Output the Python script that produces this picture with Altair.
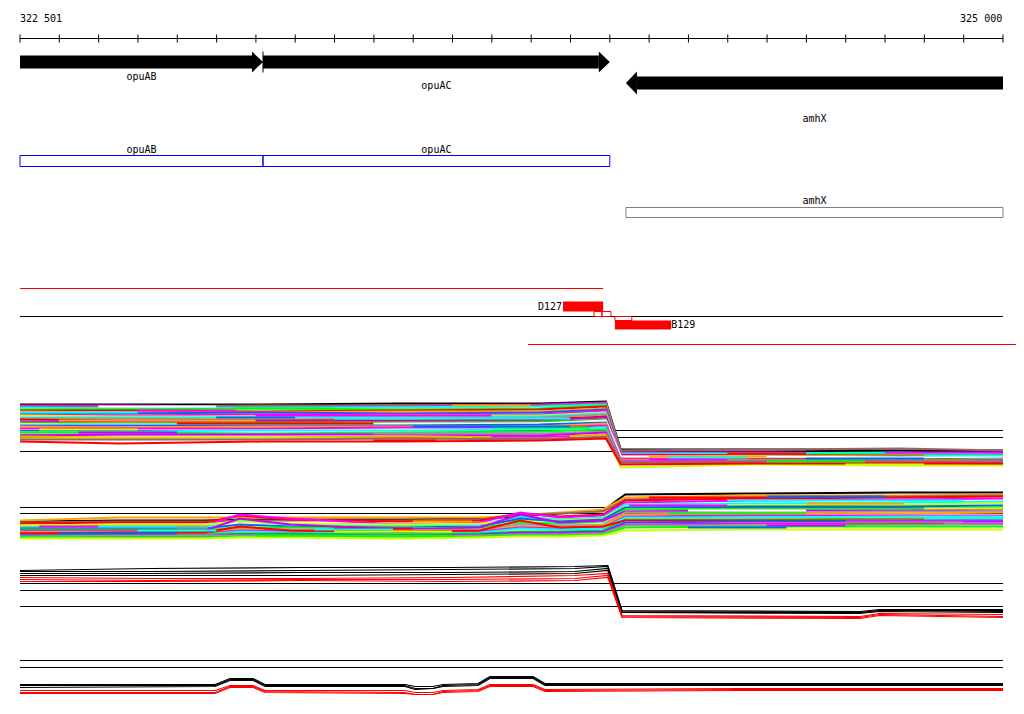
import altair as alt
import pandas as pd

# ---------------- data ----------------
X_START, X_END = 322501, 325001
TICKS = list(range(322501, 325002, 100))
END_LABELS = ["322 501", "325 000"]

GENE_NAMES = ["opuAB", "opuAC", "amhX"]
GENE_START = [322501, 323119, 324042]
GENE_END = [323119, 324001, 325001]
GENE_STRAND = ["+", "+", "-"]
GENE_ROW = [61.5, 61.5, 82.5]
GENE_LABEL_Y = [76, 85, 118]
BOX_ROW = [160.5, 160.5, 212]
BOX_LABEL_Y = [149, 149, 200]
BOX_COLOR = ["#0000ff", "#0000ff", "#808080"]

# tiling tracks: x positions (bp) and signal levels per series
T1_X = [322501, 322755, 323119, 323467, 323823, 323991, 324029, 324358, 324739, 325001]
T1_SERIES = [
    ("#000000", [404, 404, 404, 403, 403, 401, 449, 449, 450, 450]),
    ("#ff00ff", [405, 405, 406, 405, 404, 402, 452, 452, 453, 453]),
    ("#996666", [406, 406, 405, 405, 405, 403, 450, 449, 448, 450]),
    ("#00ffff", [407, 408, 407, 407, 406, 404, 453, 453, 452, 454]),
    ("#00ff00", [409, 409, 408, 409, 408, 405, 455, 454, 454, 455]),
    ("#ff0000", [410, 410, 411, 410, 409, 406, 454, 455, 455, 455]),
    ("#ffa500", [411, 412, 412, 411, 411, 408, 456, 456, 455, 456]),
    ("#0066ff", [413, 413, 412, 413, 412, 409, 457, 457, 456, 457]),
    ("#ff00ff", [414, 415, 414, 414, 414, 410, 455, 456, 457, 457]),
    ("#ccff00", [415, 416, 416, 415, 415, 412, 458, 458, 457, 459]),
    ("#00ffff", [417, 417, 417, 416, 416, 413, 456, 457, 458, 458]),
    ("#999999", [418, 418, 419, 418, 417, 414, 457, 456, 457, 458]),
    ("#ff0000", [419, 420, 420, 420, 419, 416, 459, 459, 458, 460]),
    ("#cc00ff", [421, 421, 421, 421, 420, 417, 458, 459, 459, 460]),
    ("#33cc00", [422, 423, 422, 422, 421, 419, 460, 460, 459, 460]),
    ("#ffffff", [424, 424, 424, 423, 423, 420, 456, 456, 457, 456]),
    ("#0066ff", [425, 425, 425, 425, 424, 422, 461, 461, 460, 461]),
    ("#ffa500", [426, 427, 426, 426, 426, 423, 459, 460, 460, 461]),
    ("#ff00ff", [428, 428, 428, 427, 427, 425, 460, 461, 461, 461]),
    ("#00ffff", [431, 431, 430, 430, 429, 427, 462, 461, 462, 462]),
    ("#00ff00", [432, 432, 433, 432, 431, 429, 463, 462, 462, 463]),
    ("#999999", [434, 434, 434, 433, 433, 431, 461, 461, 462, 462]),
    ("#cc00ff", [435, 434, 434, 434, 435, 432, 462, 462, 462, 463]),
    ("#ffa500", [436, 437, 437, 436, 437, 434, 463, 463, 463, 463]),
    ("#ccff00", [438, 438, 438, 438, 438, 436, 467, 464, 465, 465]),
    ("#996666", [439, 439, 439, 438, 439, 436, 462, 461, 461, 462]),
    ("#ff0000", [441, 443, 441, 441, 440, 438, 464, 463, 463, 463]),
]
# short coloured runs laid over track 1: (colour, start, end, level)
T1_RUNS = [
    ("#ffffff", 322700, 323000, 406), ("#ff00ff", 323100, 323700, 415), ("#00ffff", 323300, 323900, 418),
    ("#ffa500", 322600, 323100, 420), ("#00ff00", 323700, 323950, 427), ("#ff0000", 322900, 323400, 423),
    ("#0066ff", 323500, 323900, 426), ("#ccff00", 322550, 322800, 429), ("#cc00ff", 322650, 322900, 432),
    ("#999999", 323400, 323800, 433), ("#ff00ff", 323700, 323900, 436), ("#996666", 323650, 323850, 438),
    ("#ff0000", 323400, 323560, 440), ("#00ffff", 322501, 322800, 412), ("#ff00ff", 322800, 323050, 410),
    ("#00ff00", 323050, 323300, 408), ("#ffa500", 323600, 323800, 405), ("#0066ff", 323000, 323200, 417),
    ("#996666", 324300, 324500, 449), ("#ff00ff", 324700, 325001, 452), ("#00ffff", 324800, 325001, 455),
    ("#ff0000", 324300, 324500, 453), ("#ffa500", 324100, 324400, 456), ("#0066ff", 324500, 324800, 458),
    ("#ccff00", 324600, 324800, 464), ("#ff00ff", 324100, 324300, 459), ("#00ff00", 324400, 324650, 461),
    ("#00ffff", 324150, 324350, 457),
]
T1_REFS = [430, 437, 451]

T2_X = [322501, 322755, 322971, 323060, 323188, 323467, 323671, 323773, 323874, 323984,
        324040, 324358, 324739, 325001]
T2_SERIES = [
    ("#000000", [521, 520, 520, 519, 519, 519, 518, 516, 513, 510, 494, 493, 492, 492]),
    ("#ffa500", [520, 517, 517, 517, 517, 517, 517, 515, 512, 509, 497, 495, 495, 494]),
    ("#996666", [522, 521, 521, 520, 520, 520, 519, 514, 513, 511, 499, 497, 496, 495]),
    ("#ff0000", [523, 522, 522, 515, 519, 521, 520, 513, 516, 514, 500, 498, 497, 496]),
    ("#ff00ff", [526, 525, 525, 514, 518, 524, 522, 512, 517, 515, 502, 500, 499, 498]),
    ("#00ffff", [527, 526, 526, 520, 524, 525, 524, 516, 519, 517, 504, 503, 502, 501]),
    ("#ccff00", [525, 524, 524, 521, 523, 524, 523, 520, 520, 518, 506, 505, 504, 503]),
    ("#0066ff", [528, 528, 528, 524, 526, 527, 526, 518, 521, 519, 507, 506, 506, 505]),
    ("#00ff00", [529, 529, 529, 527, 527, 528, 527, 522, 523, 521, 509, 508, 508, 507]),
    ("#cc00ff", [530, 530, 530, 518, 524, 529, 527, 514, 522, 520, 511, 510, 510, 509]),
    ("#999999", [531, 531, 531, 528, 529, 530, 529, 524, 525, 524, 512, 512, 511, 511]),
    ("#ffa500", [532, 532, 532, 529, 530, 531, 530, 526, 527, 525, 514, 513, 513, 512]),
    ("#ff00ff", [533, 533, 533, 530, 531, 532, 531, 527, 528, 527, 516, 515, 515, 515]),
    ("#00ffff", [534, 534, 534, 531, 532, 533, 532, 528, 529, 528, 517, 517, 516, 516]),
    ("#33cc00", [535, 534, 534, 533, 533, 534, 533, 531, 531, 530, 519, 519, 518, 518]),
    ("#ff0000", [533, 532, 532, 526, 530, 531, 530, 520, 527, 526, 520, 520, 520, 519]),
    ("#0066ff", [535, 535, 535, 534, 534, 535, 534, 532, 532, 531, 522, 521, 521, 521]),
    ("#ff00ff", [536, 536, 536, 535, 535, 535, 535, 533, 533, 532, 524, 523, 523, 523]),
    ("#999999", [536, 535, 535, 535, 535, 536, 535, 534, 534, 533, 525, 525, 524, 524]),
    ("#00ff00", [537, 537, 537, 536, 536, 537, 536, 535, 535, 534, 527, 526, 526, 526]),
    ("#ccff00", [538, 538, 538, 537, 537, 538, 537, 536, 536, 535, 530, 529, 529, 529]),
]
T2_RUNS = [
    ("#ff00ff", 322550, 322700, 526), ("#00ffff", 322800, 323000, 530), ("#ff0000", 323300, 323500, 528),
    ("#00ff00", 323100, 323600, 535), ("#0066ff", 322600, 322900, 533), ("#ffa500", 323500, 323650, 521),
    ("#ccff00", 323300, 323600, 531), ("#999999", 322900, 322980, 527), ("#00ffff", 323250, 323450, 529),
    ("#00ffff", 324300, 324900, 500), ("#ff0000", 324100, 324400, 497), ("#0066ff", 324400, 324700, 496),
    ("#00ff00", 324150, 324500, 513), ("#ff00ff", 324600, 325001, 520), ("#ccff00", 324800, 325001, 508),
    ("#999999", 324600, 324900, 522), ("#00ffff", 324800, 325001, 518), ("#cc00ff", 324400, 324600, 525),
    ("#ffffff", 324200, 324500, 510), ("#ff00ff", 324050, 324300, 505), ("#ffa500", 324500, 324750, 503),
    ("#996666", 324600, 324850, 523), ("#0066ff", 324200, 324450, 527),
]
T2_REFS = [507, 513]

T3_X = [322501, 322832, 323213, 323595, 323912, 323996, 324032, 324637, 324687, 325001]
T3_SERIES = [
    ("#000000", [570, 568, 567, 567, 566, 565, 610, 611, 609, 609]),
    ("#000000", [571, 571, 570, 569, 568, 566, 611, 612, 610, 610]),
    ("#000000", [573, 573, 572, 572, 571, 568, 612, 612, 610, 611]),
    ("#000000", [575, 575, 575, 574, 573, 570, 612, 613, 611, 612]),
    ("#ff0000", [577, 578, 578, 577, 575, 573, 615, 616, 613, 614]),
    ("#ff0000", [579, 580, 579, 579, 578, 575, 616, 617, 614, 616]),
    ("#ff0000", [581, 581, 580, 581, 580, 577, 617, 618, 615, 617]),
]
T3_REFS = [583, 590, 606]

T4_X = [322501, 322997, 323035, 323094, 323124, 323480, 323506, 323551, 323577,
        323666, 323696, 323806, 323836, 324332, 325001]
T4_SERIES = [
    ("#000000", [684, 684, 678, 678, 684, 684, 686, 686, 684, 683, 676, 676, 683, 683, 683]),
    ("#000000", [685, 685, 679, 679, 685, 685, 688, 688, 685, 684, 677, 677, 684, 684, 684]),
    ("#000000", [687, 686, 680, 680, 686, 686, 689, 688, 686, 685, 678, 678, 685, 685, 685]),
    ("#ff0000", [690, 690, 685, 685, 690, 690, 692, 692, 690, 689, 684, 684, 689, 688, 688]),
    ("#ff0000", [692, 692, 686, 686, 691, 692, 694, 694, 691, 690, 685, 685, 690, 689, 689]),
    ("#ff0000", [693, 693, 687, 687, 692, 693, 694, 694, 692, 691, 686, 686, 691, 690, 690]),
]
T4_REFS = [660, 667]

# gene-model / probe region
STRUCT_LINES = [(322501, 323984, 288, "#ff0000"), (322501, 325001, 316, "#000000"),
                (323793, 325040, 344, "#ff0000")]
PROBES = [("D127", 323882, 323984, 301, 311, "right"), ("B129", 324014, 324157, 320, 329, "left")]
SMALL_BOXES = [(323961, 323981, 311, 316), (323981, 324004, 311, 316), (324014, 324057, 316, 320)]

# ---------------- build ----------------
FONT = "DejaVu Sans Mono"
XS = alt.Scale(domain=[X_START, X_END])
YS = alt.Scale(domain=[7.5, 707.5], reverse=True)


def X(f="x"):
    return alt.X(f"{f}:Q", scale=XS, axis=None)


def Y(f="y"):
    return alt.Y(f"{f}:Q", scale=YS, axis=None)


layers = []

# ruler
ruler = pd.DataFrame({"x": [X_START], "x2": [X_END], "y": [38]})
layers.append(alt.Chart(ruler).mark_rule(color="black", strokeWidth=1).encode(x=X(), x2="x2:Q", y=Y()))
tick_df = pd.DataFrame({"x": TICKS, "y": [34] * len(TICKS), "y2": [42] * len(TICKS)})
layers.append(alt.Chart(tick_df).mark_rule(color="black", strokeWidth=1).encode(x=X(), y=Y(), y2="y2:Q"))
lab_df = pd.DataFrame({"x": [X_START, X_END - 2], "y": [18, 18], "t": END_LABELS, "a": ["left", "right"]})
for a in ["left", "right"]:
    layers.append(alt.Chart(lab_df[lab_df.a == a]).mark_text(align=a, baseline="middle", font=FONT, fontSize=10, color="black")
                  .encode(x=X(), y=Y(), text="t:N"))

# gene arrows
HEAD = 28
g = pd.DataFrame({"name": GENE_NAMES, "start": GENE_START, "end": GENE_END, "strand": GENE_STRAND,
                  "row": GENE_ROW, "ly": GENE_LABEL_Y, "brow": BOX_ROW, "bly": BOX_LABEL_Y, "bc": BOX_COLOR})
g["bs"] = [s if st == "+" else s + HEAD for s, st in zip(g.start, g.strand)]
g["be"] = [e - HEAD if st == "+" else e for e, st in zip(g.end, g.strand)]
g["top"] = g.row - 6.5
g["bot"] = g.row + 6.5
g["mid"] = (g.start + g.end) / 2
layers.append(alt.Chart(g).mark_rect(color="black").encode(x=X("bs"), x2="be:Q", y=Y("top"), y2="bot:Q"))
heads = []
for _, r in g.iterrows():
    if r.strand == "+":
        heads += [{"name": r["name"], "x": r.be, "y": r.row - 10.5, "y2": r.row + 10.5},
                  {"name": r["name"], "x": r.end, "y": r.row, "y2": r.row}]
    else:
        heads += [{"name": r["name"], "x": r.start, "y": r.row, "y2": r.row},
                  {"name": r["name"], "x": r.bs, "y": r.row - 11.5, "y2": r.row + 11.5}]
heads = pd.DataFrame(heads)
layers.append(alt.Chart(heads).mark_area(color="black", opacity=1, interpolate="linear")
              .encode(x=X(), y=Y(), y2="y2:Q", detail="name:N"))
sep = pd.DataFrame({"x": [GENE_START[1]], "y": [51], "y2": [72]})
layers.append(alt.Chart(sep).mark_rule(color="black").encode(x=X(), y=Y(), y2="y2:Q"))
layers.append(alt.Chart(g).mark_text(font=FONT, fontSize=10, color="black", baseline="middle")
              .encode(x=X("mid"), y=Y("ly"), text="name:N"))

# boxes
g["btop"] = [r - 5.5 if i < 2 else r - 5 for i, r in enumerate(g.brow)]
g["bbot"] = [r + 5.5 if i < 2 else r + 5 for i, r in enumerate(g.brow)]
layers.append(alt.Chart(g).mark_rect(fillOpacity=0, strokeWidth=1)
              .encode(x=X("start"), x2="end:Q", y=Y("btop"), y2="bbot:Q",
                      stroke=alt.Stroke("bc:N", scale=None)))
layers.append(alt.Chart(g).mark_text(font=FONT, fontSize=10, color="black", baseline="middle")
              .encode(x=X("mid"), y=Y("bly"), text="name:N"))

# structure lines and probes
sl = pd.DataFrame(STRUCT_LINES, columns=["x", "x2", "y", "c"])
layers.append(alt.Chart(sl).mark_rule(strokeWidth=1, clip=False)
              .encode(x=X(), x2="x2:Q", y=Y(), color=alt.Color("c:N", scale=None)))
pr = pd.DataFrame(PROBES, columns=["name", "x", "x2", "y", "y2", "a"])
layers.append(alt.Chart(pr).mark_rect(color="#ff0000").encode(x=X(), x2="x2:Q", y=Y(), y2="y2:Q"))
sb = pd.DataFrame(SMALL_BOXES, columns=["x", "x2", "y", "y2"])
layers.append(alt.Chart(sb).mark_rect(fillOpacity=0, stroke="#ff0000", strokeWidth=1)
              .encode(x=X(), x2="x2:Q", y=Y(), y2="y2:Q"))
pr["tx"] = [r.x if r.a == "right" else r.x2 for r in pr.itertuples()]
pr["ty"] = (pr.y + pr.y2) / 2
for a in ["left", "right"]:
    layers.append(alt.Chart(pr[pr.a == a]).mark_text(font=FONT, fontSize=10, color="black", align=a, baseline="middle",
                                                     dx=-1 if a == "right" else 0)
                  .encode(x=X("tx"), y=Y("ty"), text="name:N"))

# tracks
refs = pd.DataFrame({"y": T1_REFS + T2_REFS + T3_REFS + T4_REFS})
refs["x"] = X_START
refs["x2"] = X_END
layers.append(alt.Chart(refs).mark_rule(color="black", strokeWidth=1).encode(x=X(), x2="x2:Q", y=Y()))

rows = []
sid = 0
for tname, xs, series, sw in [("t1", T1_X, T1_SERIES, 2), ("t2", T2_X, T2_SERIES, 2),
                              ("t3", T3_X, T3_SERIES, 1.2), ("t4", T4_X, T4_SERIES, 1.2)]:
    for col, vals in series:
        for i, (xv, yv) in enumerate(zip(xs, vals)):
            rows.append({"sid": sid, "c": col, "x": xv, "y": yv, "o": i, "sw": sw})
        sid += 1
lines = pd.DataFrame(rows)
layers.append(alt.Chart(lines).mark_line(interpolate="linear")
              .encode(x=X(), y=Y(), detail="sid:N", order="o:Q",
                      color=alt.Color("c:N", scale=None),
                      strokeWidth=alt.StrokeWidth("sw:Q", scale=None)))

runs = pd.DataFrame(T1_RUNS + T2_RUNS, columns=["c", "x", "x2", "y"])
layers.append(alt.Chart(runs).mark_rule(strokeWidth=2)
              .encode(x=X(), x2="x2:Q", y=Y(), color=alt.Color("c:N", scale=None)))

chart = alt.layer(*layers).properties(
    width=983, height=700,
    autosize=alt.AutoSizeParams(type="none"),
    padding={"left": 12, "top": 0, "right": 13, "bottom": 0},
).configure_view(stroke=None)

chart.save("out.html", embed_options={"renderer": "svg", "actions": False})
